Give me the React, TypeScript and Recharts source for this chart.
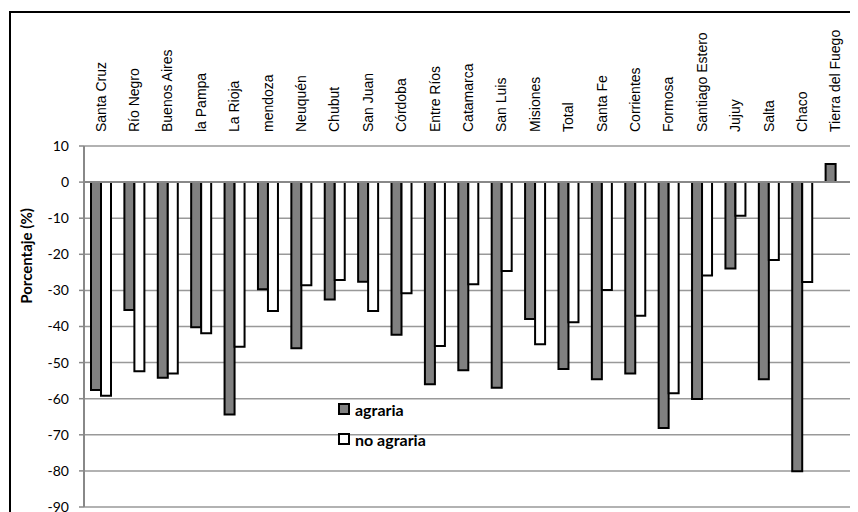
import {
  Bar,
  XAxis,
  YAxis,
  Label,
  Legend,
  BarChart,
  ReferenceLine,
  CartesianGrid,
} from "recharts";

const provincias = [
  "Santa Cruz",
  "Río Negro",
  "Buenos Aires",
  "la Pampa",
  "La Rioja",
  "mendoza",
  "Neuquén",
  "Chubut",
  "San Juan",
  "Córdoba",
  "Entre Ríos",
  "Catamarca",
  "San Luis",
  "Misiones",
  "Total",
  "Santa Fe",
  "Corrientes",
  "Formosa",
  "Santiago Estero",
  "Jujuy",
  "Salta",
  "Chaco",
  "Tierra del Fuego",
];

const agraria = [
  -57.6, -35.4, -54.2, -40.2, -64.4, -29.7, -46.0, -32.5, -27.6, -42.3, -56.0,
  -52.1, -57.0, -37.9, -51.8, -54.6, -53.0, -68.1, -60.1, -23.9, -54.6, -80.1,
  5.0,
];

const noAgraria = [
  -59.2, -52.4, -53.0, -41.9, -45.6, -35.7, -28.6, -27.1, -35.7, -30.8, -45.4,
  -28.3, -24.6, -44.9, -38.8, -29.9, -37.0, -58.5, -25.9, -9.3, -21.6, -27.7,
  null,
];

const yTicks = [10, 0, -10, -20, -30, -40, -50, -60, -70, -80, -90];

const data = provincias.map((p, i) => ({
  provincia: p,
  agraria: agraria[i],
  noAgraria: noAgraria[i],
}));

const seriesNames = [
  { key: "agraria", label: "agraria", fill: "#808080" },
  { key: "noAgraria", label: "no agraria", fill: "#ffffff" },
];

const ProvinciaTick = (props: any) => {
  const { x, y, payload } = props;
  return (
    <text
      x={x + 5}
      y={y}
      transform={`rotate(-90, ${x + 5}, ${y})`}
      textAnchor="start"
      fontSize={14}
      fontFamily="'Liberation Sans', Arial, sans-serif"
      fill="#000"
    >
      {payload.value}
    </text>
  );
};

const LegendBox = () => (
  <div style={{ fontFamily: "Lato, sans-serif", fontWeight: 700, fontSize: 16 }}>
    {seriesNames.map((s) => (
      <div
        key={s.key}
        style={{ display: "flex", alignItems: "center", height: 30 }}
      >
        <span
          style={{
            width: 8,
            height: 8,
            border: "2px solid #000",
            background: s.fill,
            marginRight: 5,
          }}
        />
        <span>{s.label}</span>
      </div>
    ))}
  </div>
);

export default function App() {
  return (
    <div
      style={{
        position: "relative",
        width: 850,
        height: 504,
        overflow: "hidden",
      }}
    >
      <div
        style={{
          position: "absolute",
          left: 1,
          top: 3,
          width: 900,
          height: 600,
          borderLeft: "2px solid #000",
          borderTop: "2px solid #000",
          pointerEvents: "none",
        }}
      />
      <BarChart
        width={850}
        height={504}
        data={data}
        margin={{ top: 0, right: 6, left: 0, bottom: 5 }}
        barGap={0}
        barSize={10}
      >
        <CartesianGrid vertical={false} stroke="#999" strokeWidth={1.5} />
        <XAxis
          dataKey="provincia"
          orientation="top"
          height={138}
          axisLine={false}
          tickLine={false}
          tickSize={6}
          tickMargin={8}
          interval={0}
          tick={<ProvinciaTick />}
        />
        <YAxis
          domain={[-90, 10]}
          ticks={yTicks}
          width={76}
          interval={0}
          axisLine={{ stroke: "#888", strokeWidth: 2 }}
          tickLine={{ stroke: "#888", strokeWidth: 1.5 }}
          tickSize={5}
          tickMargin={10}
          tick={{ fill: "#000", fontSize: 14, fontFamily: "Lato, sans-serif" }}
        >
          <Label
            content={() => (
              <text
                x={24}
                y={248}
                transform="rotate(-90, 24, 248)"
                textAnchor="middle"
                fontSize={15}
                fontWeight={700}
                fontFamily="Lato, sans-serif"
                fill="#000"
              >
                Porcentaje (%)
              </text>
            )}
          />
        </YAxis>
        <ReferenceLine y={0} stroke="#888" strokeWidth={2} />
        <Legend
          layout="vertical"
          verticalAlign="middle"
          align="center"
          wrapperStyle={{ left: 330, top: 386, width: 120 }}
          content={<LegendBox />}
        />
        {seriesNames.map((s) => (
          <Bar
            key={s.key}
            dataKey={s.key}
            name={s.label}
            fill={s.fill}
            stroke="#000"
            strokeWidth={2}
            isAnimationActive={false}
          />
        ))}
      </BarChart>
    </div>
  );
}
